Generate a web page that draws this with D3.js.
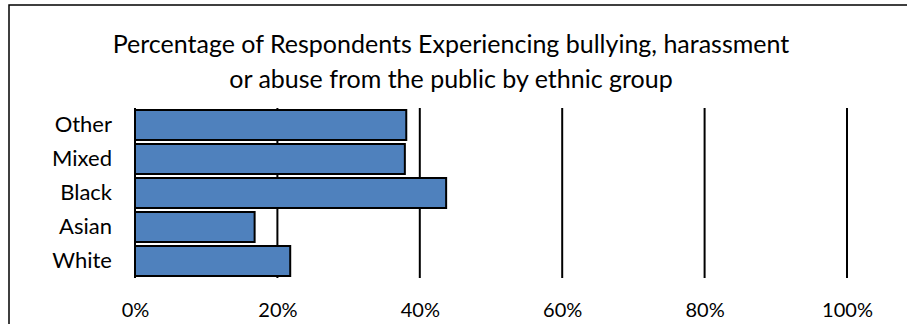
<!DOCTYPE html>
<html>
<head>
<meta charset="utf-8">
<script src="https://cdn.jsdelivr.net/npm/d3@7"></script>
<style>
  html, body { margin: 0; padding: 0; background: #fff; }
  svg { display: block; font-family: Lato, "Open Sans", sans-serif; }
</style>
</head>
<body>
<svg id="chart" width="907" height="324"></svg>
<script>
// Ethnic groups, listed top to bottom
const categories = ["Other", "Mixed", "Black", "Asian", "White"];
// Share of respondents experiencing bullying, harassment or abuse from the public
const values = [0.381, 0.379, 0.437, 0.168, 0.218];
const tickValues = [0, 0.2, 0.4, 0.6, 0.8, 1.0];
const titleLines = [
  "Percentage of Respondents Experiencing bullying, harassment",
  "or abuse from the public by ethnic group"
];

const svg = d3.select("#chart");
const W = 907, H = 324;
const plot = { left: 135, right: 847, top: 108, bottom: 278 };

// Outer chart frame
svg.append("rect")
  .attr("x", 9).attr("y", 5)
  .attr("width", W + 20).attr("height", H + 20)
  .attr("fill", "#fff")
  .attr("stroke", "#000")
  .attr("stroke-width", 1.5);

// Title
svg.append("g")
  .selectAll("text")
  .data(titleLines)
  .join("text")
  .attr("x", 451)
  .attr("y", (d, i) => 53 + i * 35)
  .attr("text-anchor", "middle")
  .attr("font-size", 25)
  .attr("fill", "#000")
  .text(d => d);

const x = d3.scaleLinear().domain([0, 1]).range([plot.left, plot.right]);
const y = d3.scaleBand()
  .domain(categories)
  .range([plot.top, plot.bottom])
  .paddingInner(4 / 34)
  .paddingOuter(2 / 34);

// Vertical gridlines
svg.append("g")
  .selectAll("line")
  .data(tickValues)
  .join("line")
  .attr("x1", d => x(d)).attr("x2", d => x(d))
  .attr("y1", plot.top).attr("y2", plot.bottom)
  .attr("stroke", "#000")
  .attr("stroke-width", 2);

// Bars
svg.append("g")
  .selectAll("rect")
  .data(categories.map((c, i) => ({ c, v: values[i] })))
  .join("rect")
  .attr("x", x(0))
  .attr("y", d => y(d.c))
  .attr("width", d => x(d.v) - x(0))
  .attr("height", y.bandwidth())
  .attr("fill", "#4F81BD")
  .attr("stroke", "#000")
  .attr("stroke-width", 2);

// X axis labels
const xAxis = d3.axisBottom(x)
  .tickValues(tickValues)
  .tickSize(0)
  .tickPadding(0)
  .tickFormat(d3.format(".0%"));
const gx = svg.append("g")
  .attr("transform", `translate(0, 302)`)
  .call(xAxis);
gx.select(".domain").remove();
gx.selectAll("text")
  .attr("dy", null)
  .attr("y", 15)
  .attr("font-family", "Lato, 'Open Sans', sans-serif")
  .attr("font-size", 20)
  .attr("fill", "#000");

// Y axis category labels
const yAxis = d3.axisLeft(y).tickSize(0).tickPadding(0);
const gy = svg.append("g")
  .attr("transform", `translate(112, 0)`)
  .call(yAxis);
gy.select(".domain").remove();
gy.selectAll("text")
  .attr("font-family", "Lato, 'Open Sans', sans-serif")
  .attr("font-size", 22)
  .attr("fill", "#000");
</script>
</body>
</html>
